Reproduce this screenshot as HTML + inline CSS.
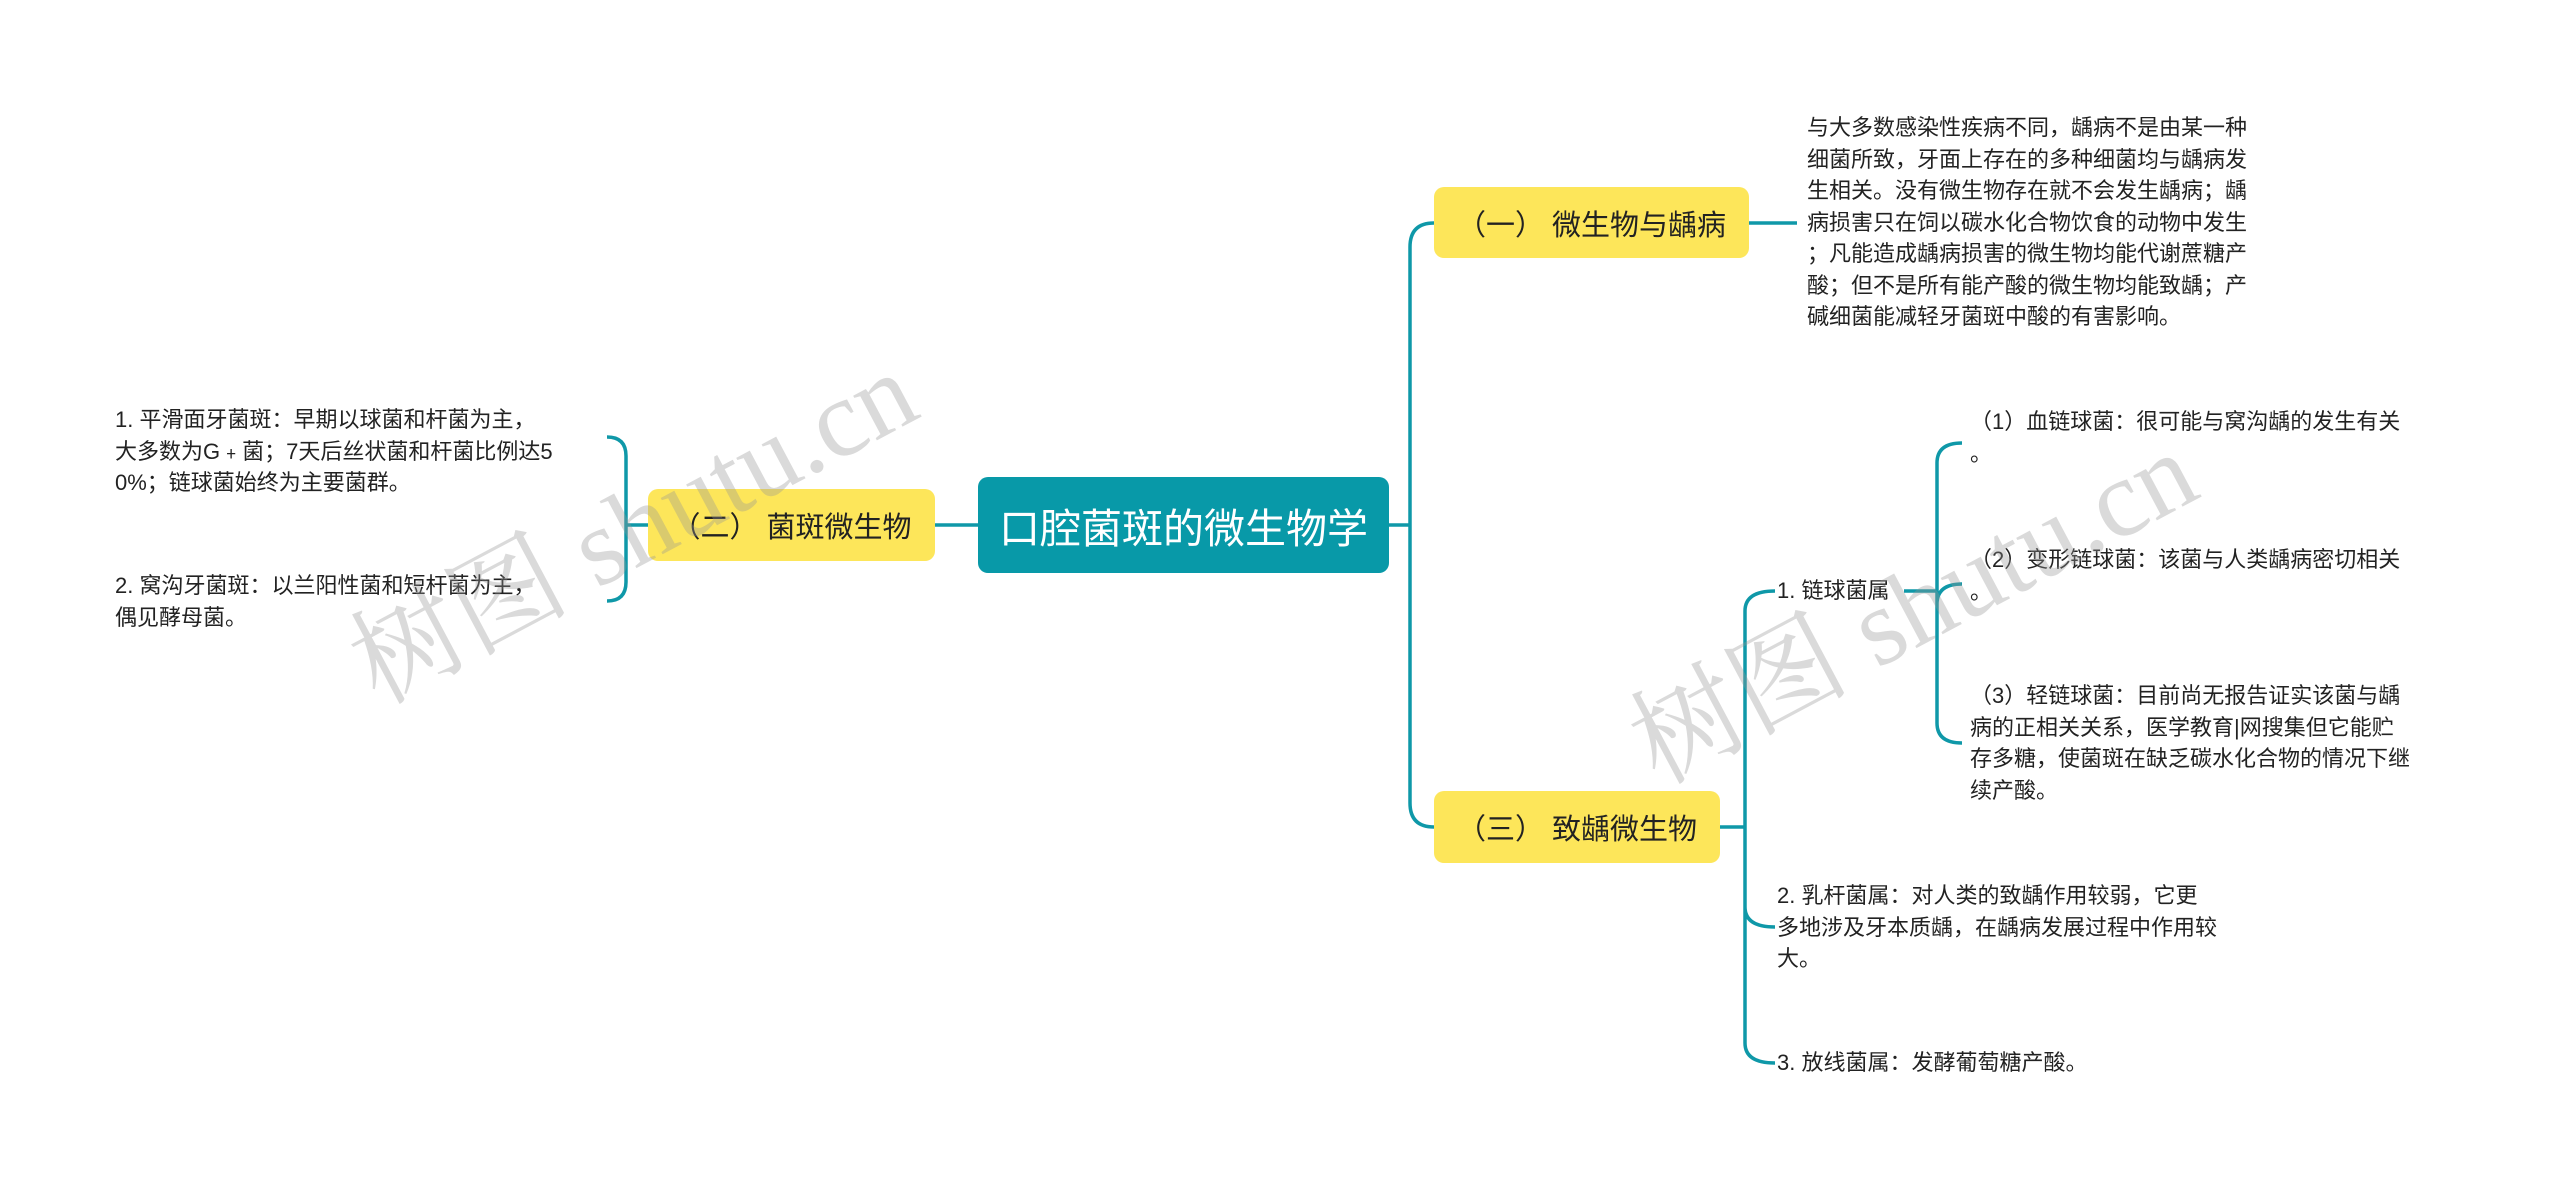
<!DOCTYPE html>
<html><head><meta charset="utf-8"><style>
body{margin:0;width:2560px;height:1189px;background:#fff;position:relative;overflow:hidden;font-family:"Liberation Sans","Noto Sans CJK SC",sans-serif;}
.n{position:absolute;display:flex;align-items:center;justify-content:center;border-radius:10px;}
.y{background:#fde65a;color:#222;font-size:29px;}
.t{position:absolute;font-size:22px;line-height:31.5px;color:#222;white-space:nowrap;}
.wm{position:absolute;font-family:"Liberation Serif","Noto Serif CJK SC",serif;font-size:110px;color:rgba(150,150,150,0.35);transform:rotate(-28deg);white-space:nowrap;}
</style></head><body>
<svg width="2560" height="1189" style="position:absolute;left:0;top:0" fill="none" stroke="#0f98a8" stroke-width="3.5">
<path d="M935 525 H978"/>
<path d="M648 525 H626 M607 437 Q626 437 626 456 V582 Q626 601 607 601"/>
<path d="M1389 525 H1410 M1434 223 Q1410 223 1410 247 V803 Q1410 827 1434 827"/>
<path d="M1749 223 H1797"/>
<path d="M1720 827 H1745 M1775 591 Q1745 591 1745 611 V1043 Q1745 1063 1775 1063 M1745 907 Q1745 927 1775 927"/>
<path d="M1904 591 H1937 M1962 443 Q1937 443 1937 463 V723 Q1937 743 1962 743 M1937 604 Q1937 584 1962 584"/>
</svg>
<div class="n" style="left:978px;top:477px;width:411px;height:96px;background:#0899a8;color:#fff;font-size:41px;">口腔菌斑的微生物学</div>
<div class="n y" style="left:648px;top:489px;width:287px;height:72px;">（二） 菌斑微生物</div>
<div class="n y" style="left:1434px;top:187px;width:315px;height:71px;">（一） 微生物与龋病</div>
<div class="n y" style="left:1434px;top:791px;width:286px;height:72px;">（三） 致龋微生物</div>
<div class="t" style="left:115px;top:404px;">1. 平滑面牙菌斑：早期以球菌和杆菌为主，<br>大多数为G﹢菌；7天后丝状菌和杆菌比例达5<br>0%；链球菌始终为主要菌群。</div>
<div class="t" style="left:115px;top:570px;">2. 窝沟牙菌斑：以兰阳性菌和短杆菌为主，<br>偶见酵母菌。</div>
<div class="t" style="left:1807px;top:112px;">与大多数感染性疾病不同，龋病不是由某一种<br>细菌所致，牙面上存在的多种细菌均与龋病发<br>生相关。没有微生物存在就不会发生龋病；龋<br>病损害只在饲以碳水化合物饮食的动物中发生<br>；凡能造成龋病损害的微生物均能代谢蔗糖产<br>酸；但不是所有能产酸的微生物均能致龋；产<br>碱细菌能减轻牙菌斑中酸的有害影响。</div>
<div class="t" style="left:1777px;top:575px;">1. 链球菌属</div>
<div class="t" style="left:1970px;top:406px;">（1）血链球菌：很可能与窝沟龋的发生有关<br>。</div>
<div class="t" style="left:1970px;top:544px;">（2）变形链球菌：该菌与人类龋病密切相关<br>。</div>
<div class="t" style="left:1970px;top:680px;">（3）轻链球菌：目前尚无报告证实该菌与龋<br>病的正相关关系，医学教育|网搜集但它能贮<br>存多糖，使菌斑在缺乏碳水化合物的情况下继<br>续产酸。</div>
<div class="t" style="left:1777px;top:880px;">2. 乳杆菌属：对人类的致龋作用较弱，它更<br>多地涉及牙本质龋，在龋病发展过程中作用较<br>大。</div>
<div class="t" style="left:1777px;top:1047px;">3. 放线菌属：发酵葡萄糖产酸。</div>
<div class="wm" style="left:320px;top:440px;">树图 shutu.cn</div>
<div class="wm" style="left:1600px;top:520px;">树图 shutu.cn</div>
</body></html>
